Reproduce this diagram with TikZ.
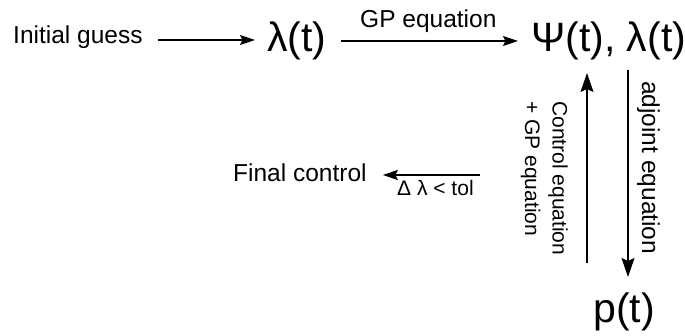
\documentclass[tikz,border=0pt]{standalone}
\usepackage{fontspec}
\setmainfont{Liberation Sans}
\usetikzlibrary{arrows.meta}
\begin{document}
\begin{tikzpicture}[x=1pt,y=-1pt,
  lbl/.style={inner sep=0pt},
  big/.style={lbl,font=\fontsize{41}{48}\selectfont},
  mid/.style={lbl,font=\fontsize{24.5}{29}\selectfont},
  sml/.style={lbl,font=\fontsize{21}{27.5}\selectfont},
  arr/.style={line width=1.4pt,-{Stealth[length=15pt,width=10pt,inset=2.5pt]}},
  varr/.style={line width=1.4pt,-{Stealth[length=19pt,width=13pt,inset=3pt]}}]
\useasboundingbox (0,0) rectangle (685,336);
% nodes
\node[mid,anchor=base west] (init) at (13,44) {Initial guess};
\node[big,anchor=base west] (lam) at (267,52) {λ(t)};
\node[big,anchor=base west] (psi) at (531,52) {Ψ(t), λ(t)};
\node[big,anchor=base west] (pt) at (593,323) {p(t)};
\node[mid,anchor=base west] (final) at (233,182) {Final control};
% labels
\node[mid,anchor=base west] (gp) at (360,28) {GP equation};
\node[sml,anchor=base west] (tol) at (397,196) {Δ λ < tol};
\node[sml,align=left,rotate=-90,anchor=north west] (ctrl) at (568,101) {Control equation\\+ GP equation};
\node[mid,rotate=-90,anchor=base west] (adj) at (642,81) {adjoint equation};
% connectors
\draw[arr] ([xshift=15pt,yshift=4pt]init.base east) -- ([xshift=-12pt,yshift=12pt]lam.base west);
\draw[arr] ([xshift=14pt,yshift=11pt]lam.base east) -- ([xshift=-13pt,yshift=11pt]psi.base west);
\draw[varr] ([xshift=-6pt,yshift=60pt]pt.base west) -- ([xshift=56pt,yshift=-21pt]psi.base west);
\draw[varr] ([xshift=97pt,yshift=-18pt]psi.base west) -- ([xshift=35pt,yshift=46pt]pt.base west);
\coordinate (fc0) at (480,175);
\draw[arr] (fc0) -- ([xshift=16pt,yshift=7pt]final.base east);
\end{tikzpicture}
\end{document}
